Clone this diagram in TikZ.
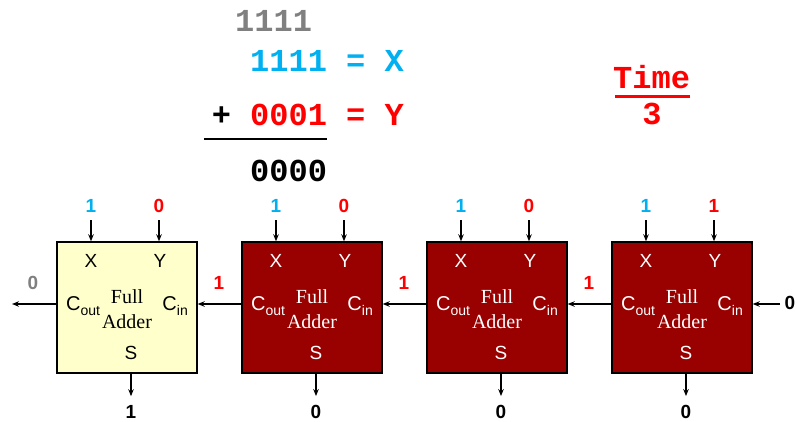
\documentclass[tikz,border=0pt]{standalone}
\usepackage{fontspec}
\setmainfont{Liberation Sans}
\newfontfamily\serifo{Liberation Serif}
\newfontfamily\monob{Liberation Mono}
\usetikzlibrary{arrows.meta}
\definecolor{dred}{HTML}{990000}
\definecolor{byel}{HTML}{FFFFCC}
\definecolor{cy}{HTML}{00B0F0}
\definecolor{gr}{HTML}{808080}
\definecolor{rd}{HTML}{FF0000}
\begin{document}
\begin{tikzpicture}[x=1pt,y=-1pt,
  arr/.style={line width=1.4pt,-{Stealth[length=7pt,width=5.5pt]}},
  fabox/.style={draw=black,line width=1.4pt,minimum width=140pt,minimum height=131pt,inner sep=0pt},
  bit/.style={font=\fontsize{19}{19}\selectfont\bfseries,inner sep=0pt},
  lbl/.style={font=\fontsize{19}{19}\selectfont,inner sep=0pt},
  fa/.style={font=\serifo\fontsize{20}{25}\selectfont,align=center,inner sep=0pt},
  mono/.style={font=\monob\fontsize{32}{32}\selectfont\bfseries,inner sep=0pt,anchor=base west}]
\useasboundingbox (0,0) rectangle (797,422);
% sum at top
\node[mono,text=gr] (carry) at (235,32) {1111};
\node[mono,text=cy] (xrow) at (250,72) {1111 = X};
\node[mono,text=rd] (yrow) at (211.6,126) {\textcolor{black}{+} 0001 = Y};
\node[mono,text=black] (srow) at (250,182) {0000};
\coordinate (ls) at (204,139);
\coordinate (le) at (327,139);
\draw[line width=2.5pt] (ls) -- (le);
% time
\node[mono,text=rd] (time) at (613,89) {Time};
\draw[rd,line width=3pt] (615,97) -- (690,97);
\node[mono,text=rd,anchor=base] (tnum) at (652,125) {3};
% adders
\foreach \i/\L/\xb/\yb/\col/\tc/\s in {1/57/1/0/byel/black/1,2/242/1/0/dred/white/0,3/427/1/0/dred/white/0,4/612/1/1/dred/white/0}{
  \node[fabox,fill=\col] (b\i) at (\L+70,307.5) {};
  \node[lbl,text=\tc] (bx\i) at (\L+34,261) {X};
  \node[lbl,text=\tc] (by\i) at (\L+103,261) {Y};
  \node[lbl,text=\tc,anchor=base west] (bco\i) at (\L+9,310) {\fontsize{20}{20}\selectfont C\raisebox{-5pt}{\fontsize{14}{14}\selectfont out}};
  \node[lbl,text=\tc,anchor=base east] (bci\i) at (\L+131,310) {\fontsize{20}{20}\selectfont C\raisebox{-5pt}{\fontsize{14}{14}\selectfont in}};
  \node[fa,text=\tc] (bfa\i) at (\L+70,309.5) {Full\\Adder};
  \node[lbl,text=\tc] (bs\i) at (\L+74,353) {S};
  \node[bit,text=cy] (ix\i) at (\L+34,206) {\xb};
  \node[bit,text=rd] (iy\i) at (\L+102,206) {\yb};
  \node[bit,text=black] (os\i) at (\L+74,412) {\s};
  \draw[arr] ([yshift=-14pt]ix\i.center) -- (ix\i |- b\i.north);
  \draw[arr] ([yshift=-14pt]iy\i.center) -- (iy\i |- b\i.north);
  \draw[arr] (os\i |- b\i.south) -- ([yshift=9pt]os\i.north);
}
% carries
\coordinate (cout) at (12,304);
\coordinate (cin) at (780,304);
\draw[arr] ([yshift=3.5pt]b1.west) -- (cout);
\draw[arr] ([yshift=3.5pt]b2.west) -- ([yshift=3.5pt]b1.east);
\draw[arr] ([yshift=3.5pt]b3.west) -- ([yshift=3.5pt]b2.east);
\draw[arr] ([yshift=3.5pt]b4.west) -- ([yshift=3.5pt]b3.east);
\draw[arr] (cin) -- ([yshift=3.5pt]b4.east);
\node[bit,text=gr] (c4) at (33,283) {0};
\node[bit,text=rd] (c1) at (219,283) {1};
\node[bit,text=rd] (c2) at (404,283) {1};
\node[bit,text=rd] (c3) at (589,283) {1};
\node[bit,text=black] (c0) at (790,303) {0};
\end{tikzpicture}
\end{document}
